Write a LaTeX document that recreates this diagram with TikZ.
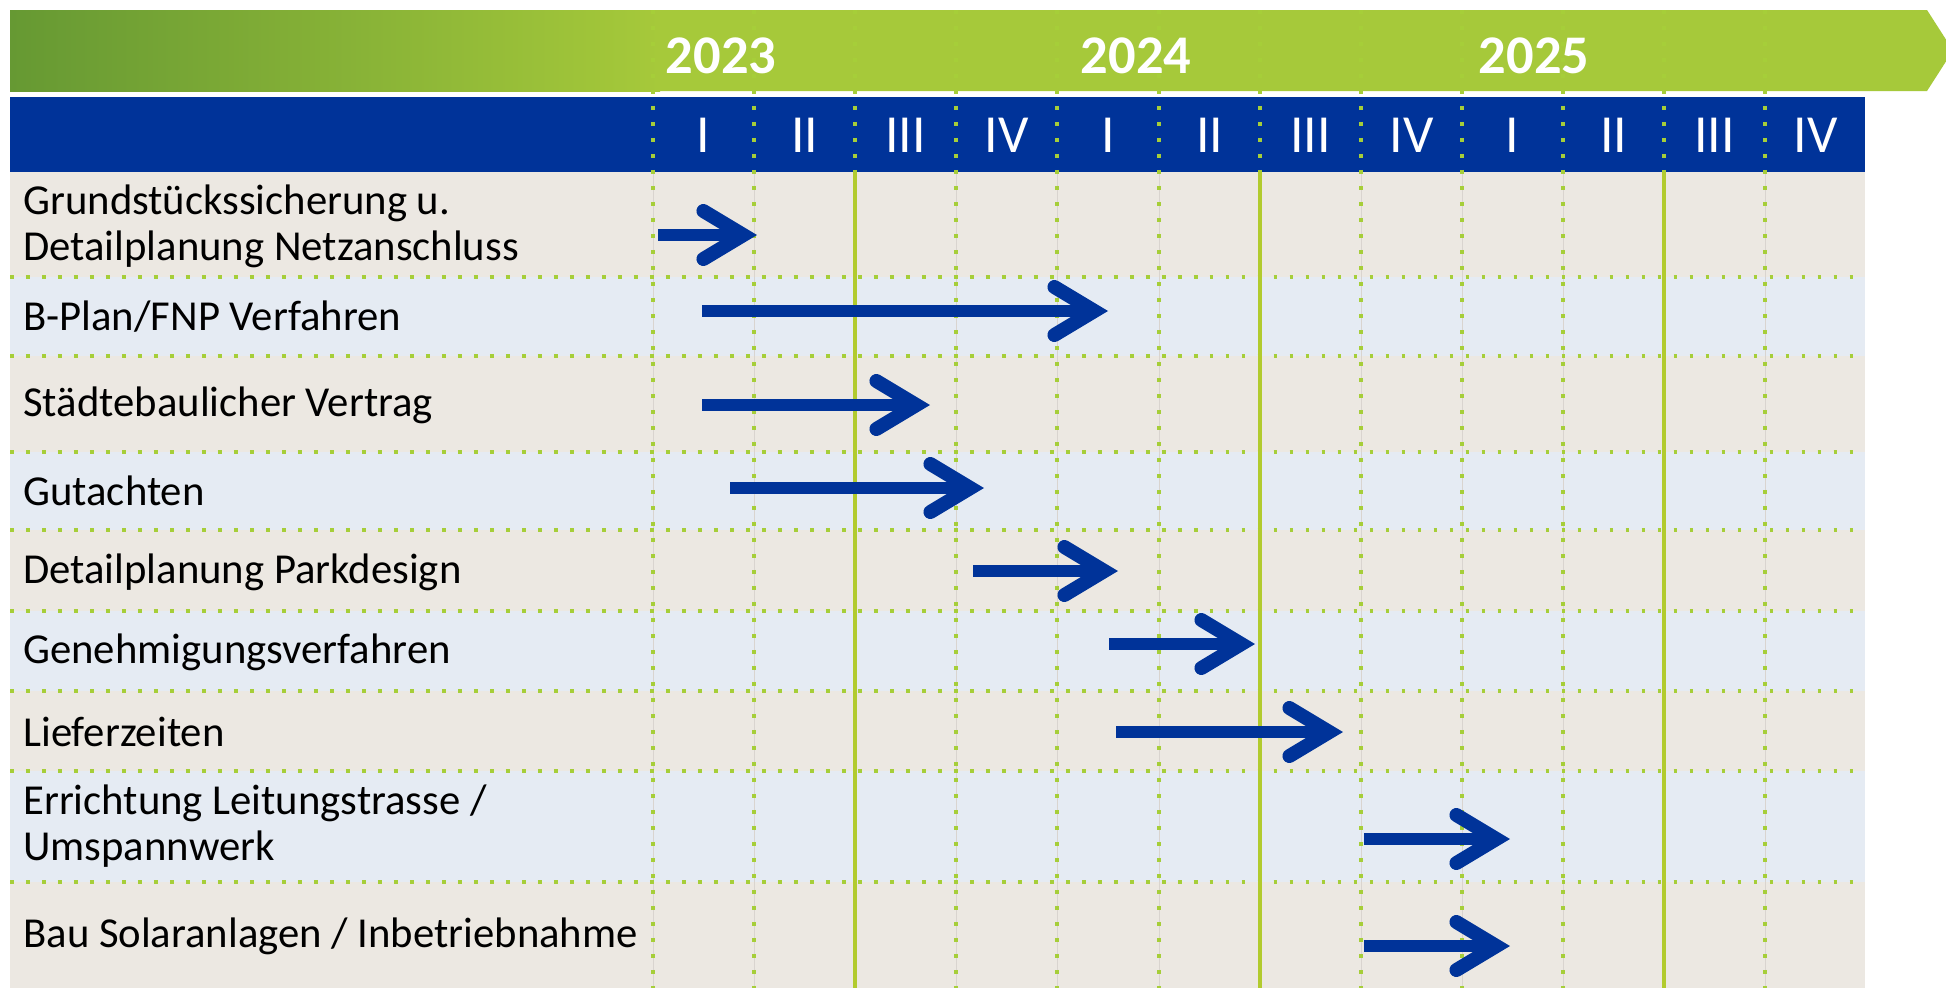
\documentclass[tikz,border=0pt]{standalone}
\usepackage{fontspec}
\setmainfont{Carlito}
\usetikzlibrary{arrows.meta}
\definecolor{barblue}{RGB}{0,51,153}
\definecolor{darkgreen}{RGB}{102,153,51}
\definecolor{lightgreen}{RGB}{166,201,58}
\definecolor{dotgreen}{RGB}{166,206,57}
\definecolor{yeargreen}{RGB}{178,203,46}
\definecolor{rowbeige}{RGB}{236,232,226}
\definecolor{rowblue}{RGB}{229,235,243}
\definecolor{gridgrey}{RGB}{217,212,207}
\begin{document}
\begin{tikzpicture}[x=0.02cm, y=-0.02cm,
        griddot/.style={dotgreen, line width=0.075cm, dash pattern=on 0.075cm off 0.245cm},
        yearline/.style={yeargreen, line width=0.07cm},
        task/.style={anchor=west, inner sep=0pt, align=left, font=\fontsize{24.3}{26.2}\selectfont},
        quarter/.style={text=white, inner sep=0pt, font=\fontsize{30.5}{32}\selectfont},
        year/.style={text=white, inner sep=0pt, font=\fontsize{31}{33}\selectfont\bfseries},
        bar/.style={barblue, line width=0.24cm, -{Straight Barb[length=0.8cm, width=0.96cm, line width=0.28cm, line cap=round, line join=miter]}}]
    \useasboundingbox (0,0) rectangle (1946,988);
    \clip (0,0) rectangle (1946,988);
    \fill[white] (0,0) rectangle (1946,988);
    \fill[lightgreen] (10,10) -- (1927,10) -- (1953,50.5) -- (1927,91) -- (10,91) -- cycle;
    \shade[left color=darkgreen, right color=lightgreen] (10,10) rectangle (660,91);
    \fill[barblue] (10,97) rectangle (1865,172);
    \fill[rowbeige] (10,172) rectangle (1865,277);
    \fill[rowblue] (10,277) rectangle (1865,356);
    \fill[rowbeige] (10,356) rectangle (1865,452);
    \fill[rowblue] (10,452) rectangle (1865,530);
    \fill[rowbeige] (10,530) rectangle (1865,611);
    \fill[rowblue] (10,611) rectangle (1865,691);
    \fill[rowbeige] (10,691) rectangle (1865,771);
    \fill[rowblue] (10,771) rectangle (1865,882);
    \fill[rowbeige] (10,882) rectangle (1865,988);
    \draw[gridgrey, line width=0.02cm] (653,172) -- (653,988) (754,172) -- (754,988) (956,172) -- (956,988) (1057,172) -- (1057,988) (1159,172) -- (1159,988) (1361,172) -- (1361,988) (1462,172) -- (1462,988) (1563,172) -- (1563,988) (1765,172) -- (1765,988);
    \draw[griddot] (10,277) -- (1865,277);
    \draw[griddot] (10,356) -- (1865,356);
    \draw[griddot] (10,452) -- (1865,452);
    \draw[griddot] (10,530) -- (1865,530);
    \draw[griddot] (10,611) -- (1865,611);
    \draw[griddot] (10,691) -- (1865,691);
    \draw[griddot] (10,771) -- (1865,771);
    \draw[griddot] (10,882) -- (1865,882);
    \draw[griddot] (653,10) -- (653,988);
    \draw[griddot] (754,10) -- (754,988);
    \draw[griddot] (855,10) -- (855,172);
    \draw[griddot] (956,10) -- (956,988);
    \draw[griddot] (1057,10) -- (1057,988);
    \draw[griddot] (1159,10) -- (1159,988);
    \draw[griddot] (1260,10) -- (1260,172);
    \draw[griddot] (1361,10) -- (1361,988);
    \draw[griddot] (1462,10) -- (1462,988);
    \draw[griddot] (1563,10) -- (1563,988);
    \draw[griddot] (1664,10) -- (1664,172);
    \draw[griddot] (1765,10) -- (1765,988);
    \draw[yearline] (855,172) -- (855,988);
    \draw[yearline] (1260,172) -- (1260,988);
    \draw[yearline] (1664,172) -- (1664,988);
    \node[year] (y2023) at (721,56) {2023};
    \node[year] (y2024) at (1136,56) {2024};
    \node[year] (y2025) at (1534,56) {2025};
    \node[quarter] (q1) at (703.5,135) {I};
    \node[quarter] (q2) at (804.5,135) {II};
    \node[quarter] (q3) at (905.5,135) {III};
    \node[quarter] (q4) at (1006.5,135) {IV};
    \node[quarter] (q5) at (1108,135) {I};
    \node[quarter] (q6) at (1209.5,135) {II};
    \node[quarter] (q7) at (1310.5,135) {III};
    \node[quarter] (q8) at (1411.5,135) {IV};
    \node[quarter] (q9) at (1512.5,135) {I};
    \node[quarter] (q10) at (1613.5,135) {II};
    \node[quarter] (q11) at (1714.5,135) {III};
    \node[quarter] (q12) at (1815.5,135) {IV};
    \node[task] (t1) at (23,226) {Grundstückssicherung u.\\Detailplanung Netzanschluss};
    \node[task] (t2) at (23,317) {B-Plan/FNP Verfahren};
    \node[task] (t3) at (23,405) {Städtebaulicher Vertrag};
    \node[task] (t4) at (23,491) {Gutachten};
    \node[task] (t5) at (23,572) {Detailplanung Parkdesign};
    \node[task] (t6) at (23,652) {Genehmigungsverfahren};
    \node[task] (t7) at (23,732) {Lieferzeiten};
    \node[task] (t8) at (23,826) {Errichtung Leitungstrasse /\\Umspannwerk};
    \node[task] (t9) at (23,936) {Bau Solaranlagen / Inbetriebnahme};
    \coordinate (s1) at (658,235);
    \coordinate (e1) at (757,235);
    \coordinate (s2) at (702,311);
    \coordinate (e2) at (1108,311);
    \coordinate (s3) at (702,405);
    \coordinate (e3) at (930,405);
    \coordinate (s4) at (730,488);
    \coordinate (e4) at (984,488);
    \coordinate (s5) at (973,571);
    \coordinate (e5) at (1118,571);
    \coordinate (s6) at (1109,644);
    \coordinate (e6) at (1255,644);
    \coordinate (s7) at (1116,732);
    \coordinate (e7) at (1343,732);
    \coordinate (s8) at (1364,839);
    \coordinate (e8) at (1510,839);
    \coordinate (s9) at (1364,946);
    \coordinate (e9) at (1510,946);
    \draw[bar] (s1) -- (e1);
    \draw[bar] (s2) -- (e2);
    \draw[bar] (s3) -- (e3);
    \draw[bar] (s4) -- (e4);
    \draw[bar] (s5) -- (e5);
    \draw[bar] (s6) -- (e6);
    \draw[bar] (s7) -- (e7);
    \draw[bar] (s8) -- (e8);
    \draw[bar] (s9) -- (e9);
\end{tikzpicture}
\end{document}
